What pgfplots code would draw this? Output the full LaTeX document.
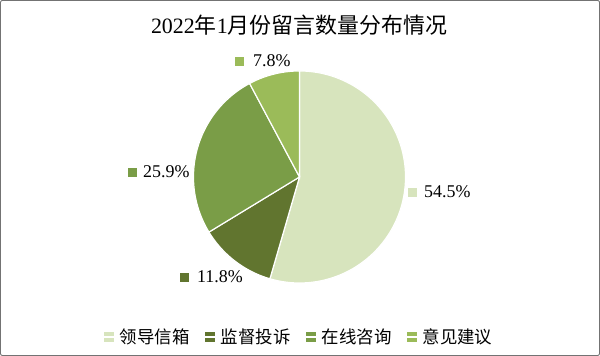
\documentclass[border=0pt]{standalone}
\usepackage{pgfplots}
\pgfplotsset{compat=1.18}
\usepackage{fontspec}
\setmainfont{Liberation Serif}
\newfontfamily\cjk{Noto Sans CJK SC}
\definecolor{cA}{HTML}{D7E4BD}
\definecolor{cB}{HTML}{61752F}
\definecolor{cC}{HTML}{7A9D47}
\definecolor{cD}{HTML}{9BBB59}
\begin{document}
\begin{tikzpicture}
% slice values (percent)
\def\vA{54.5}\def\vB{11.8}\def\vC{25.9}\def\vD{7.8}
\pgfmathsetmacro\eA{90}
\pgfmathsetmacro\sA{\eA-3.6*\vA}
\pgfmathsetmacro\sB{\sA-3.6*\vB}
\pgfmathsetmacro\sC{\sB-3.6*\vC}
\pgfmathsetmacro\sD{\sC-3.6*\vD}
\def\cx{299.5}\def\cy{179}\def\r{106}
\begin{axis}[width=600bp,height=356bp,scale only axis,
  xmin=0,xmax=600,ymin=0,ymax=356,axis lines=none,clip=false,
  legend style={at={(axis cs:299,19)},anchor=center,draw=none,fill=none,
    legend columns=4,font=\cjk\fontsize{17.5}{18}\selectfont,
    /tikz/every even column/.append style={column sep=13bp}},
  legend image code/.code={\fill[#1,draw=none] (0bp,-5bp) rectangle (10bp,5bp);
    \path (0bp,0bp) -- (13bp,0bp);}]
\addplot[fill=cA,draw=white,line width=1.2bp,domain=\sA:\eA,samples=120]
  ({\cx+\r*cos(x)},{\cy+\r*sin(x)}) -- (axis cs:\cx,\cy) -- cycle;
\addlegendentry{领导信箱}
\addplot[fill=cB,draw=white,line width=1.2bp,domain=\sB:\sA,samples=40]
  ({\cx+\r*cos(x)},{\cy+\r*sin(x)}) -- (axis cs:\cx,\cy) -- cycle;
\addlegendentry{监督投诉}
\addplot[fill=cC,draw=white,line width=1.2bp,domain=\sC:\sB,samples=60]
  ({\cx+\r*cos(x)},{\cy+\r*sin(x)}) -- (axis cs:\cx,\cy) -- cycle;
\addlegendentry{在线咨询}
\addplot[fill=cD,draw=white,line width=1.2bp,domain=\sD:\sC,samples=30]
  ({\cx+\r*cos(x)},{\cy+\r*sin(x)}) -- (axis cs:\cx,\cy) -- cycle;
\addlegendentry{意见建议}
% data label markers
\addplot[forget plot,only marks,mark=square*,mark size=3.8bp,color=cA] coordinates {(412,164)};
\addplot[forget plot,only marks,mark=square*,mark size=3.8bp,color=cB] coordinates {(184,79)};
\addplot[forget plot,only marks,mark=square*,mark size=3.8bp,color=cC] coordinates {(132,184)};
\addplot[forget plot,only marks,mark=square*,mark size=3.8bp,color=cD] coordinates {(239,295)};
\node[anchor=west,inner sep=0pt,font=\fontsize{18}{19}\selectfont] at (axis cs:424,164) {54.5\%};
\node[anchor=west,inner sep=0pt,font=\fontsize{18}{19}\selectfont] at (axis cs:197,79) {11.8\%};
\node[anchor=west,inner sep=0pt,font=\fontsize{18}{19}\selectfont] at (axis cs:143,184) {25.9\%};
\node[anchor=west,inner sep=0pt,font=\fontsize{18}{19}\selectfont] at (axis cs:253,295) {7.8\%};
% title
\node[font=\fontsize{22}{24}\selectfont] at (axis cs:299,331)
  {2022{\cjk 年}1{\cjk 月份留言数量分布情况}};
% frame
\draw[color=black!55,rounded corners=2bp,line width=0.9bp]
  (axis cs:0.5,0.5) rectangle (axis cs:599.5,355.5);
\end{axis}
\end{tikzpicture}
\end{document}
